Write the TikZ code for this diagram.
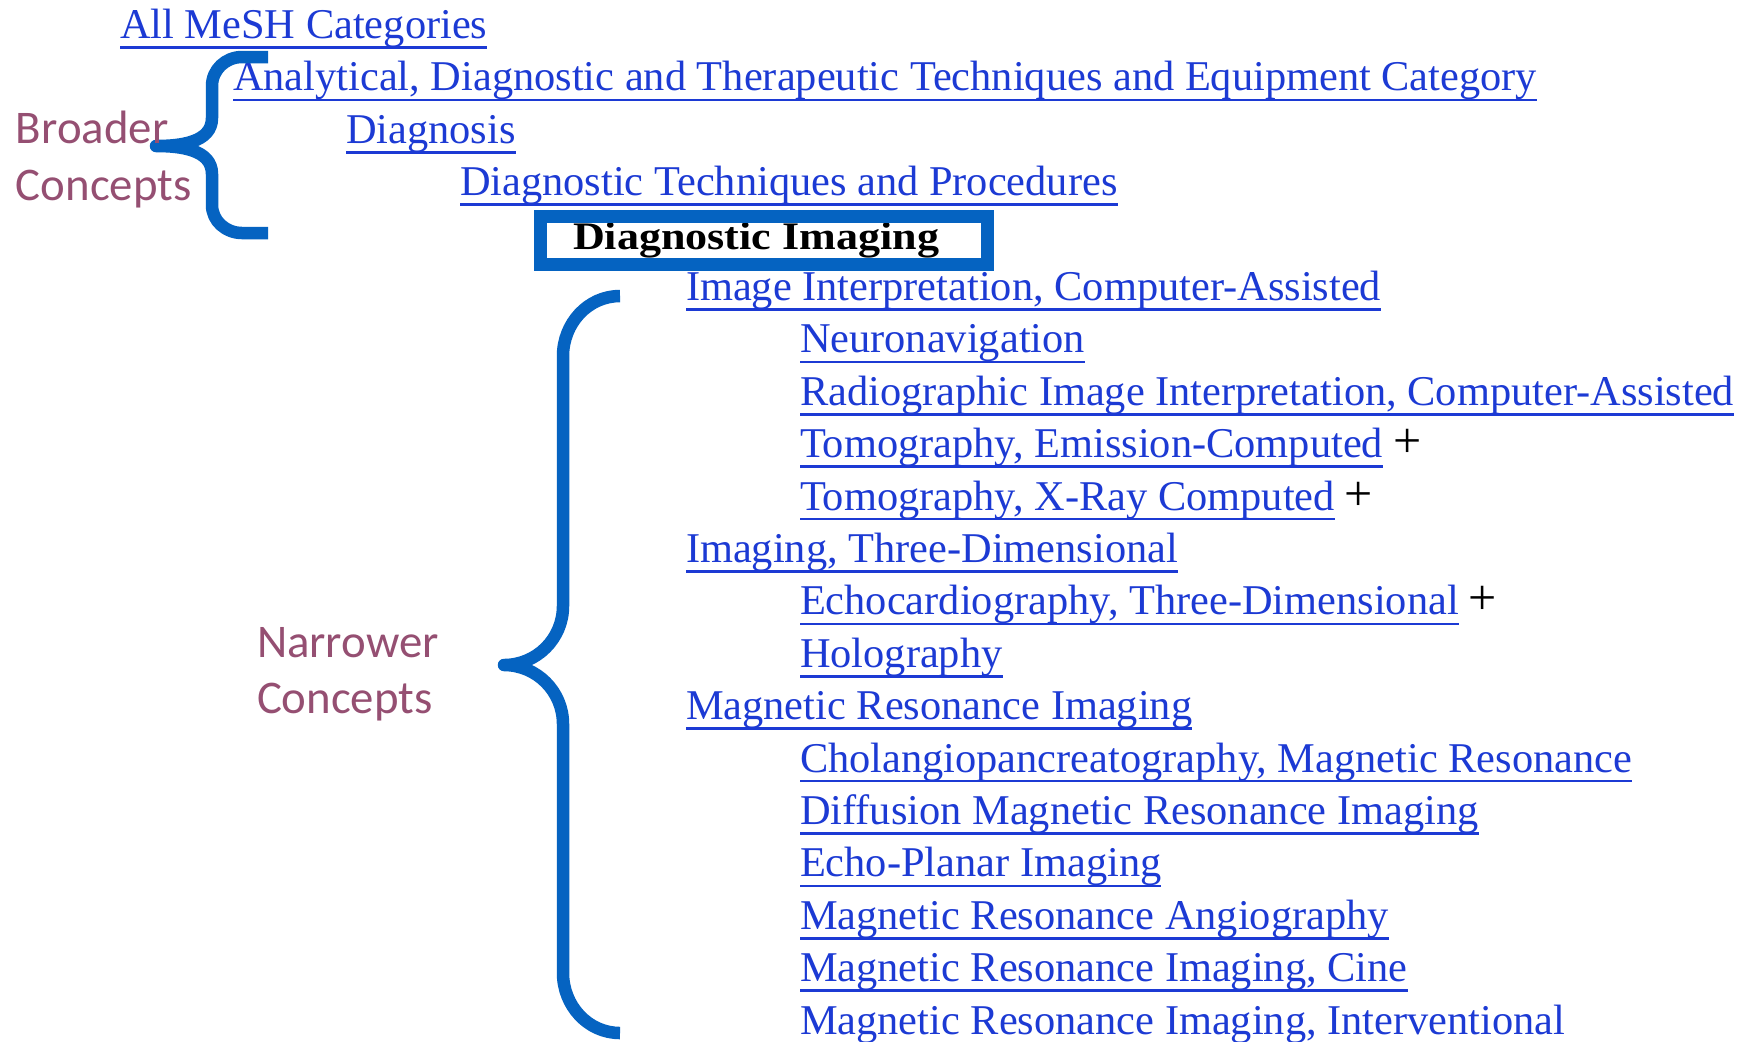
\documentclass[tikz,border=0pt]{standalone}
\usepackage{fontspec}
\usepackage{graphicx}
\setmainfont{Liberation Serif}
\newfontfamily\lblfont{Carlito}
\definecolor{linkblue}{RGB}{28,58,212}
\definecolor{bracecol}{HTML}{0563C1}
\definecolor{lblcol}{HTML}{954F72}
\tikzset{
  lnk/.style={anchor=base west, inner sep=0pt, outer sep=0pt, text=linkblue,
    font=\fontsize{21.2}{21.2}\selectfont},
  cur/.style={anchor=base west, inner sep=0pt, outer sep=0pt, text=black,
    font=\fontsize{19.5}{19.5}\selectfont\bfseries},
  plus/.style={anchor=base west, inner sep=0pt, outer sep=0pt, text=black,
    font=\fontsize{25}{25}\selectfont},
  ulst/.style={draw=linkblue, line width=1.25pt},
  bracest/.style={draw=bracecol, line width=6.25pt, line join=round, line cap=butt},
  boxst/.style={draw=bracecol, line width=6.5pt},
  lbl/.style={anchor=base west, inner sep=0pt, outer sep=0pt, text=lblcol,
    font=\lblfont\fontsize{23.4}{23.4}\selectfont},
}
\newcommand\lnkrow[4]{%
  \node[lnk] (#1) at (#2,{38.5+52.4*#3}) {#4};
  \draw[ulst] ([yshift=-4.5pt]#1.base west) -- ([yshift=-4.5pt]#1.base east);}
\begin{document}
\begin{tikzpicture}[x=0.5pt,y=-0.5pt]
\fill[white] (0,0) rectangle (1749,1041);
\useasboundingbox (0,0) rectangle (1749,1041);
% hierarchy
\lnkrow{r0}{120}{0}{All MeSH Categories}
\lnkrow{r1}{233}{1}{Analytical, Diagnostic and Therapeutic Techniques and Equipment Category}
\lnkrow{r2}{346}{2}{Diagnosis}
\lnkrow{r3}{460}{3}{Diagnostic Techniques and Procedures}
\node[cur] (r4) at (573,249) {\scalebox{1.13}[1]{Diagnostic Imaging}};
\lnkrow{r5}{686}{5}{Image Interpretation, Computer-Assisted}
\lnkrow{r6}{800}{6}{Neuronavigation}
\lnkrow{r7}{800}{7}{Radiographic Image Interpretation, Computer-Assisted}
\lnkrow{r8}{800}{8}{Tomography, Emission-Computed}
\lnkrow{r9}{800}{9}{Tomography, X-Ray Computed}
\lnkrow{r10}{686}{10}{Imaging, Three-Dimensional}
\lnkrow{r11}{800}{11}{Echocardiography, Three-Dimensional}
\lnkrow{r12}{800}{12}{Holography}
\lnkrow{r13}{686}{13}{Magnetic Resonance Imaging}
\lnkrow{r14}{800}{14}{Cholangiopancreatography, Magnetic Resonance}
\lnkrow{r15}{800}{15}{Diffusion Magnetic Resonance Imaging}
\lnkrow{r16}{800}{16}{Echo-Planar Imaging}
\lnkrow{r17}{800}{17}{Magnetic Resonance Angiography}
\lnkrow{r18}{800}{18}{Magnetic Resonance Imaging, Cine}
\lnkrow{r19}{800}{19}{Magnetic Resonance Imaging, Interventional}
% plus signs
\node[plus] (p8) at ([xshift=5pt]r8.base east) {+};
\node[plus] (p9) at ([xshift=5pt]r9.base east) {+};
\node[plus] (p11) at ([xshift=5pt]r11.base east) {+};
% highlight box
\draw[boxst] (540,216.5) rectangle (987.5,264.5);
% braces
\draw[bracest] (268,57) -- (242,57) to[out=180,in=90] (212,86) -- (212,118)
  to[out=-90,in=0] (156,146) to[out=0,in=90] (212,174) -- (212,205)
  to[out=-90,in=180] (242,233) -- (268,233);
\draw[bracest] (620,296) to[out=180,in=90] (563,356) -- (563,606)
  to[out=-90,in=0] (504,665) to[out=0,in=90] (563,724) -- (563,973)
  to[out=-90,in=180] (620,1033);
% labels
\node[lbl] (b1) at (16,143) {Broader};
\node[lbl] (b2) at (16,200) {Concepts};
\node[lbl] (n1) at (257,657) {Narrower};
\node[lbl] (n2) at (257,713) {Concepts};
\end{tikzpicture}
\end{document}
